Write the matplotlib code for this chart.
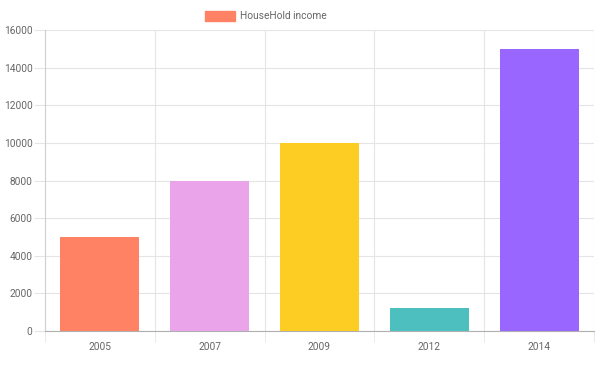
import numpy as np
import matplotlib
matplotlib.use("Agg")
import matplotlib.pyplot as plt
from matplotlib.patches import Rectangle

years = ["2005", "2007", "2009", "2012", "2014"]
income = [5000, 8000, 10000, 1200, 15000]
colors = ["#ff8264", "#eaa5ea", "#fecd24", "#4dbfbf", "#9966ff"]
y_ticks = [0, 2000, 4000, 6000, 8000, 10000, 12000, 14000, 16000]

GRID = "#e5e5e5"
TXT = "#666666"

plt.rcParams["font.family"] = ["Roboto", "DejaVu Sans"]

fig = plt.figure(figsize=(6, 3.65), dpi=100)
ax = fig.add_axes([45 / 600, 1 - 331 / 365, 549 / 600, 301 / 365])

x = np.arange(len(years))
ax.bar(x, income, width=0.72, color=colors, zorder=3)

ax.set_xlim(-0.5, len(years) - 0.5)
ax.set_ylim(0, 16000)

# x: labels at centres, grid + tick marks at category boundaries
ax.set_xticks(x)
ax.set_xticklabels(years)
ax.set_xticks(np.arange(-0.5, len(years)), minor=True)
ax.tick_params(axis="x", which="major", length=0, pad=8, labelsize=7.3, labelcolor=TXT)
ax.tick_params(axis="x", which="minor", length=8, color=GRID)
ax.grid(axis="x", which="minor", color=GRID, lw=0.8, zorder=0)

ax.set_yticks(y_ticks)
ax.tick_params(axis="y", length=8, color=GRID, pad=1, labelsize=7.3, labelcolor=TXT)
ax.grid(axis="y", which="major", color=GRID, lw=0.8, zorder=0)

for s in ["top", "right"]:
    ax.spines[s].set_visible(False)
ax.spines["left"].set_color("#d0d0d0")
ax.spines["bottom"].set_color("#b0b0b0")

# legend
fig.add_artist(Rectangle((205 / 600, 1 - 21 / 365), 30 / 600, 10 / 365,
                         transform=fig.transFigure, facecolor=colors[0],
                         edgecolor=colors[0]))
fig.text(240 / 600, 1 - 16 / 365, "HouseHold income", fontsize=7.3,
         color=TXT, va="center", ha="left")

fig.savefig("out.png", dpi=100)
